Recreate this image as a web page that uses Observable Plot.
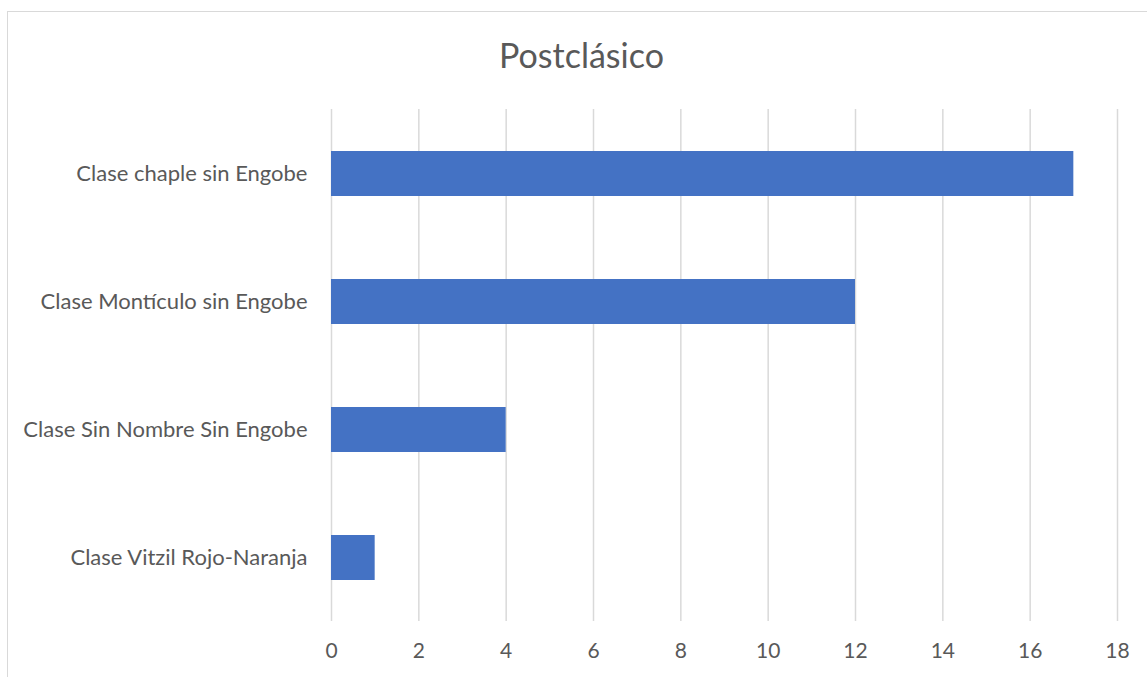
<!DOCTYPE html>
<html>
<head>
<meta charset="utf-8">
<script src="https://cdn.jsdelivr.net/npm/d3@7"></script>
<script src="https://cdn.jsdelivr.net/npm/@observablehq/plot@0.6"></script>
<style>
  html, body { margin: 0; padding: 0; background: #fff; overflow: hidden; }
  #frame { position: absolute; left: 7px; top: 11px; width: 1160px; height: 700px; border: 1.5px solid #d9d9d9; box-sizing: border-box; }
  #title { position: absolute; left: 0; width: 1163px; top: 34px; text-align: center; font-family: Lato, "Open Sans", sans-serif; font-size: 34px; color: #595959; }
  #chart { position: absolute; left: 0; top: 89px; }
</style>
</head>
<body>
<div id="frame"></div>
<div id="title">Postclásico</div>
<div id="chart"></div>
<script>
const categories = ["Clase chaple sin Engobe", "Clase Montículo sin Engobe", "Clase Sin Nombre Sin Engobe", "Clase Vitzil Rojo-Naranja"];
const values = [17, 12, 4, 1];
const xTicks = [0, 2, 4, 6, 8, 10, 12, 14, 16, 18];

const data = categories.map((c, i) => ({category: c, value: values[i]}));

const chart = Plot.plot({
  width: 1147,
  height: 588,
  marginLeft: 331,
  marginRight: 30,
  marginTop: 20,
  marginBottom: 56,
  style: {fontFamily: "Lato, 'Open Sans', sans-serif", fontSize: "22px", color: "#595959", background: "transparent"},
  x: {domain: [0, 18], ticks: xTicks, label: null},
  y: {domain: categories, paddingInner: 0.65, paddingOuter: 0.325, label: null},
  marks: [
    Plot.ruleX(xTicks, {stroke: "#d9d9d9", strokeWidth: 1.5}),
    Plot.barX(data, {x: "value", y: "category", fill: "#4472C4"}),
    Plot.axisX({ticks: xTicks, tickSize: 0, tickPadding: 22, fontSize: "21px", fill: "#595959", label: null}),
    Plot.axisY({tickSize: 0, tickPadding: 24, fontSize: "22px", fill: "#595959", label: null})
  ]
});
document.getElementById("chart").appendChild(chart);
</script>
</body>
</html>
